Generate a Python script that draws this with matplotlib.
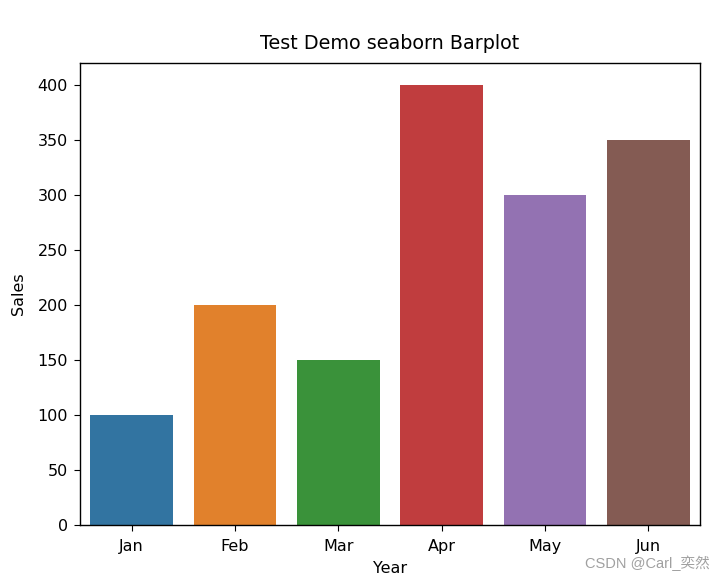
import matplotlib
matplotlib.use('Agg')
import matplotlib.pyplot as plt
import seaborn as sns

# 数据
months = ['Jan', 'Feb', 'Mar', 'Apr', 'May', 'Jun']
sales = [100, 200, 150, 400, 300, 350]

plt.rcParams['font.size'] = 11.5
plt.rcParams['xtick.major.size'] = 4.2
plt.rcParams['ytick.major.size'] = 4.2
plt.rcParams['xtick.major.pad'] = 6
plt.rcParams['ytick.major.pad'] = 4.5
plt.rcParams['axes.linewidth'] = 1.0

fig = plt.figure(figsize=(7.26, 5.82), dpi=100)
ax = fig.add_axes([0.110, 0.098, 0.854, 0.794])

sns.barplot(x=months, y=sales, hue=months, palette='tab10', legend=False, ax=ax)

ax.set_title('Test Demo seaborn Barplot', fontsize=13.8, pad=10)
ax.set_xlabel('Year', labelpad=5)
ax.set_ylabel('Sales', labelpad=8)

# 水印
fig.text(0.977, 0.033, 'CSDN @Carl_奕然', ha='right', va='center',
         fontsize=10.5, color='#a0a0a0',
         family=['Liberation Sans', 'Noto Sans CJK SC'])

fig.savefig('out.png', dpi=100)
